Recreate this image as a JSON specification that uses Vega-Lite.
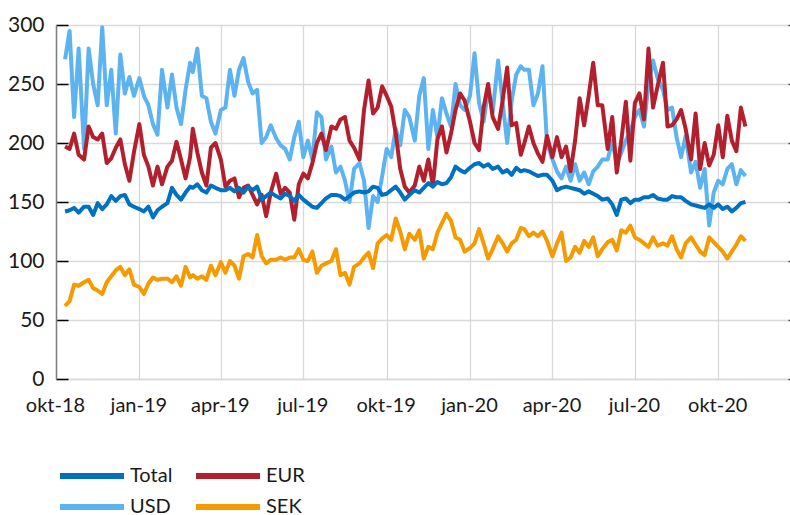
{
"$schema":"https://vega.github.io/schema/vega-lite/v6.json",
"width":732,"height":354,
"autosize":{"type":"none"},
"padding":{"left":56,"top":25,"right":2,"bottom":136},
"background":"white",
"config":{"view":{"stroke":null},"font":"Lato"},
"layer":[
{
"data":{"values":[
{"d":"2018-10-11","Total":142,"EUR":197,"USD":271,"SEK":62},
{"d":"2018-10-16","Total":143,"EUR":195,"USD":295,"SEK":66},
{"d":"2018-10-21","Total":145,"EUR":208,"USD":222,"SEK":80},
{"d":"2018-10-26","Total":141,"EUR":190,"USD":280,"SEK":79},
{"d":"2018-11-01","Total":146,"EUR":186,"USD":195,"SEK":82},
{"d":"2018-11-06","Total":146,"EUR":214,"USD":280,"SEK":84},
{"d":"2018-11-11","Total":139,"EUR":205,"USD":250,"SEK":77},
{"d":"2018-11-16","Total":149,"EUR":203,"USD":232,"SEK":75},
{"d":"2018-11-21","Total":144,"EUR":208,"USD":298,"SEK":72},
{"d":"2018-11-26","Total":148,"EUR":183,"USD":232,"SEK":82},
{"d":"2018-12-01","Total":155,"EUR":187,"USD":262,"SEK":87},
{"d":"2018-12-06","Total":151,"EUR":196,"USD":208,"SEK":92},
{"d":"2018-12-11","Total":155,"EUR":203,"USD":275,"SEK":95},
{"d":"2018-12-16","Total":156,"EUR":182,"USD":242,"SEK":88},
{"d":"2018-12-21","Total":148,"EUR":168,"USD":256,"SEK":93},
{"d":"2018-12-26","Total":146,"EUR":192,"USD":240,"SEK":80},
{"d":"2019-01-01","Total":144,"EUR":216,"USD":255,"SEK":78},
{"d":"2019-01-06","Total":142,"EUR":190,"USD":240,"SEK":72},
{"d":"2019-01-11","Total":146,"EUR":180,"USD":232,"SEK":81},
{"d":"2019-01-16","Total":137,"EUR":164,"USD":216,"SEK":86},
{"d":"2019-01-21","Total":143,"EUR":180,"USD":207,"SEK":84},
{"d":"2019-01-26","Total":146,"EUR":165,"USD":262,"SEK":85},
{"d":"2019-02-01","Total":149,"EUR":180,"USD":230,"SEK":85},
{"d":"2019-02-06","Total":162,"EUR":185,"USD":258,"SEK":82},
{"d":"2019-02-11","Total":156,"EUR":201,"USD":230,"SEK":87},
{"d":"2019-02-16","Total":152,"EUR":186,"USD":216,"SEK":79},
{"d":"2019-02-21","Total":158,"EUR":170,"USD":245,"SEK":95},
{"d":"2019-02-26","Total":163,"EUR":188,"USD":268,"SEK":86},
{"d":"2019-03-01","Total":162,"EUR":212,"USD":260,"SEK":88},
{"d":"2019-03-06","Total":165,"EUR":192,"USD":280,"SEK":85},
{"d":"2019-03-11","Total":160,"EUR":175,"USD":240,"SEK":87},
{"d":"2019-03-16","Total":158,"EUR":164,"USD":238,"SEK":84},
{"d":"2019-03-21","Total":164,"EUR":196,"USD":218,"SEK":96},
{"d":"2019-03-26","Total":162,"EUR":200,"USD":208,"SEK":88},
{"d":"2019-04-01","Total":160,"EUR":186,"USD":228,"SEK":99},
{"d":"2019-04-06","Total":160,"EUR":163,"USD":230,"SEK":90},
{"d":"2019-04-11","Total":162,"EUR":168,"USD":262,"SEK":100},
{"d":"2019-04-16","Total":159,"EUR":170,"USD":240,"SEK":96},
{"d":"2019-04-21","Total":162,"EUR":154,"USD":262,"SEK":85},
{"d":"2019-04-26","Total":158,"EUR":162,"USD":272,"SEK":104},
{"d":"2019-05-01","Total":163,"EUR":164,"USD":252,"SEK":106},
{"d":"2019-05-06","Total":160,"EUR":156,"USD":242,"SEK":103},
{"d":"2019-05-11","Total":163,"EUR":148,"USD":245,"SEK":122},
{"d":"2019-05-16","Total":152,"EUR":156,"USD":200,"SEK":104},
{"d":"2019-05-21","Total":155,"EUR":138,"USD":205,"SEK":98},
{"d":"2019-05-26","Total":158,"EUR":158,"USD":215,"SEK":101},
{"d":"2019-06-01","Total":155,"EUR":174,"USD":204,"SEK":101},
{"d":"2019-06-06","Total":153,"EUR":157,"USD":198,"SEK":103},
{"d":"2019-06-11","Total":157,"EUR":162,"USD":195,"SEK":101},
{"d":"2019-06-16","Total":155,"EUR":158,"USD":186,"SEK":103},
{"d":"2019-06-21","Total":151,"EUR":135,"USD":205,"SEK":103},
{"d":"2019-06-26","Total":156,"EUR":165,"USD":218,"SEK":110},
{"d":"2019-07-01","Total":152,"EUR":174,"USD":188,"SEK":101},
{"d":"2019-07-06","Total":149,"EUR":170,"USD":202,"SEK":100},
{"d":"2019-07-11","Total":146,"EUR":183,"USD":186,"SEK":108},
{"d":"2019-07-16","Total":145,"EUR":200,"USD":226,"SEK":90},
{"d":"2019-07-21","Total":149,"EUR":208,"USD":222,"SEK":96},
{"d":"2019-07-26","Total":153,"EUR":194,"USD":186,"SEK":98},
{"d":"2019-08-01","Total":156,"EUR":214,"USD":197,"SEK":100},
{"d":"2019-08-06","Total":156,"EUR":212,"USD":175,"SEK":110},
{"d":"2019-08-11","Total":155,"EUR":220,"USD":180,"SEK":88},
{"d":"2019-08-16","Total":152,"EUR":222,"USD":168,"SEK":90},
{"d":"2019-08-21","Total":155,"EUR":202,"USD":150,"SEK":80},
{"d":"2019-08-26","Total":158,"EUR":196,"USD":178,"SEK":95},
{"d":"2019-09-01","Total":159,"EUR":186,"USD":183,"SEK":98},
{"d":"2019-09-06","Total":158,"EUR":228,"USD":168,"SEK":103},
{"d":"2019-09-11","Total":159,"EUR":253,"USD":128,"SEK":107},
{"d":"2019-09-16","Total":163,"EUR":225,"USD":155,"SEK":94},
{"d":"2019-09-21","Total":162,"EUR":230,"USD":150,"SEK":115},
{"d":"2019-09-26","Total":156,"EUR":248,"USD":172,"SEK":119},
{"d":"2019-10-01","Total":157,"EUR":240,"USD":195,"SEK":122},
{"d":"2019-10-06","Total":160,"EUR":231,"USD":188,"SEK":118},
{"d":"2019-10-11","Total":163,"EUR":208,"USD":212,"SEK":136},
{"d":"2019-10-16","Total":158,"EUR":178,"USD":198,"SEK":125},
{"d":"2019-10-21","Total":152,"EUR":163,"USD":228,"SEK":110},
{"d":"2019-10-26","Total":156,"EUR":158,"USD":222,"SEK":123},
{"d":"2019-11-01","Total":160,"EUR":164,"USD":202,"SEK":118},
{"d":"2019-11-06","Total":158,"EUR":180,"USD":240,"SEK":126},
{"d":"2019-11-11","Total":162,"EUR":168,"USD":255,"SEK":102},
{"d":"2019-11-16","Total":166,"EUR":186,"USD":195,"SEK":112},
{"d":"2019-11-21","Total":163,"EUR":164,"USD":228,"SEK":110},
{"d":"2019-11-26","Total":167,"EUR":203,"USD":205,"SEK":124},
{"d":"2019-12-01","Total":165,"EUR":214,"USD":238,"SEK":132},
{"d":"2019-12-06","Total":166,"EUR":192,"USD":225,"SEK":140},
{"d":"2019-12-11","Total":171,"EUR":208,"USD":214,"SEK":134},
{"d":"2019-12-16","Total":180,"EUR":228,"USD":250,"SEK":120},
{"d":"2019-12-21","Total":177,"EUR":242,"USD":232,"SEK":118},
{"d":"2019-12-26","Total":175,"EUR":236,"USD":228,"SEK":108},
{"d":"2020-01-01","Total":179,"EUR":218,"USD":240,"SEK":111},
{"d":"2020-01-06","Total":182,"EUR":200,"USD":276,"SEK":115},
{"d":"2020-01-11","Total":183,"EUR":194,"USD":234,"SEK":127},
{"d":"2020-01-16","Total":180,"EUR":230,"USD":218,"SEK":115},
{"d":"2020-01-21","Total":182,"EUR":250,"USD":245,"SEK":102},
{"d":"2020-01-26","Total":178,"EUR":222,"USD":226,"SEK":110},
{"d":"2020-02-01","Total":180,"EUR":212,"USD":270,"SEK":121},
{"d":"2020-02-06","Total":175,"EUR":236,"USD":234,"SEK":115},
{"d":"2020-02-11","Total":177,"EUR":264,"USD":200,"SEK":108},
{"d":"2020-02-16","Total":173,"EUR":215,"USD":236,"SEK":115},
{"d":"2020-02-21","Total":179,"EUR":217,"USD":258,"SEK":118},
{"d":"2020-02-26","Total":176,"EUR":190,"USD":265,"SEK":128},
{"d":"2020-03-01","Total":177,"EUR":200,"USD":262,"SEK":127},
{"d":"2020-03-06","Total":176,"EUR":214,"USD":262,"SEK":121},
{"d":"2020-03-11","Total":174,"EUR":200,"USD":232,"SEK":124},
{"d":"2020-03-16","Total":172,"EUR":191,"USD":242,"SEK":121},
{"d":"2020-03-21","Total":173,"EUR":184,"USD":265,"SEK":125},
{"d":"2020-03-26","Total":173,"EUR":206,"USD":200,"SEK":117},
{"d":"2020-04-01","Total":168,"EUR":188,"USD":186,"SEK":104},
{"d":"2020-04-06","Total":160,"EUR":205,"USD":176,"SEK":115},
{"d":"2020-04-11","Total":162,"EUR":188,"USD":170,"SEK":124},
{"d":"2020-04-16","Total":163,"EUR":197,"USD":180,"SEK":100},
{"d":"2020-04-21","Total":162,"EUR":176,"USD":168,"SEK":103},
{"d":"2020-04-26","Total":161,"EUR":202,"USD":182,"SEK":112},
{"d":"2020-05-01","Total":160,"EUR":238,"USD":168,"SEK":107},
{"d":"2020-05-06","Total":157,"EUR":215,"USD":175,"SEK":117},
{"d":"2020-05-11","Total":159,"EUR":240,"USD":165,"SEK":112},
{"d":"2020-05-16","Total":157,"EUR":268,"USD":176,"SEK":120},
{"d":"2020-05-21","Total":155,"EUR":232,"USD":180,"SEK":104},
{"d":"2020-05-26","Total":152,"EUR":232,"USD":186,"SEK":110},
{"d":"2020-06-01","Total":153,"EUR":195,"USD":186,"SEK":116},
{"d":"2020-06-06","Total":148,"EUR":222,"USD":202,"SEK":118},
{"d":"2020-06-11","Total":139,"EUR":175,"USD":182,"SEK":109},
{"d":"2020-06-16","Total":152,"EUR":202,"USD":192,"SEK":126},
{"d":"2020-06-21","Total":153,"EUR":235,"USD":202,"SEK":124},
{"d":"2020-06-26","Total":149,"EUR":185,"USD":210,"SEK":130},
{"d":"2020-07-01","Total":152,"EUR":234,"USD":222,"SEK":120},
{"d":"2020-07-06","Total":152,"EUR":242,"USD":228,"SEK":118},
{"d":"2020-07-11","Total":154,"EUR":220,"USD":214,"SEK":115},
{"d":"2020-07-16","Total":154,"EUR":280,"USD":250,"SEK":112},
{"d":"2020-07-21","Total":156,"EUR":230,"USD":270,"SEK":120},
{"d":"2020-07-26","Total":153,"EUR":248,"USD":255,"SEK":113},
{"d":"2020-08-01","Total":152,"EUR":268,"USD":245,"SEK":115},
{"d":"2020-08-06","Total":152,"EUR":214,"USD":228,"SEK":113},
{"d":"2020-08-11","Total":155,"EUR":215,"USD":230,"SEK":121},
{"d":"2020-08-16","Total":154,"EUR":220,"USD":205,"SEK":110},
{"d":"2020-08-21","Total":154,"EUR":228,"USD":188,"SEK":103},
{"d":"2020-08-26","Total":151,"EUR":212,"USD":206,"SEK":115},
{"d":"2020-09-01","Total":148,"EUR":186,"USD":175,"SEK":120},
{"d":"2020-09-06","Total":147,"EUR":225,"USD":184,"SEK":114},
{"d":"2020-09-11","Total":146,"EUR":178,"USD":162,"SEK":108},
{"d":"2020-09-16","Total":145,"EUR":200,"USD":178,"SEK":105},
{"d":"2020-09-21","Total":148,"EUR":181,"USD":130,"SEK":120},
{"d":"2020-09-26","Total":145,"EUR":190,"USD":158,"SEK":116},
{"d":"2020-10-01","Total":148,"EUR":215,"USD":168,"SEK":112},
{"d":"2020-10-06","Total":144,"EUR":188,"USD":165,"SEK":108},
{"d":"2020-10-11","Total":146,"EUR":223,"USD":178,"SEK":102},
{"d":"2020-10-16","Total":142,"EUR":202,"USD":182,"SEK":108},
{"d":"2020-10-21","Total":145,"EUR":193,"USD":165,"SEK":114},
{"d":"2020-10-26","Total":149,"EUR":230,"USD":177,"SEK":121},
{"d":"2020-10-31","Total":150,"EUR":214,"USD":172,"SEK":117}
]},
"transform":[{"fold":["USD","EUR","Total","SEK"],"as":["serie","v"]}],
"mark":{"type":"line","strokeWidth":4,"strokeJoin":"round"},
"encoding":{
"x":{"field":"d","type":"temporal",
"scale":{"type":"utc","domain":[{"year":2018,"month":10,"date":1,"utc":true},{"year":2020,"month":12,"date":17,"utc":true}]},
"axis":{"title":null,
"values":[{"year":2018,"month":10,"date":1,"utc":true},{"year":2019,"month":1,"date":1,"utc":true},{"year":2019,"month":4,"date":1,"utc":true},{"year":2019,"month":7,"date":1,"utc":true},{"year":2019,"month":10,"date":1,"utc":true},{"year":2020,"month":1,"date":1,"utc":true},{"year":2020,"month":4,"date":1,"utc":true},{"year":2020,"month":7,"date":1,"utc":true},{"year":2020,"month":10,"date":1,"utc":true}],
"labelExpr":"['jan','feb','mar','apr','mai','jun','jul','aug','sep','okt','nov','des'][utcmonth(datum.value)] + '-' + utcFormat(datum.value, '%y')",
"labelFlush":false,"labelOverlap":false,"labelFont":"Lato","labelFontSize":20,"labelColor":"#1a1a1a","labelPadding":16,"labelOffset":-1,
"ticks":false,"grid":true,"gridColor":"#d9d9d9","gridWidth":1.3,"domainColor":"#d9d9d9","domainWidth":1.5}},
"y":{"field":"v","type":"quantitative","scale":{"domain":[0,300],"nice":false},
"axis":{"title":null,"values":[0,50,100,150,200,250,300],"labelFont":"Lato","labelFontSize":21,"labelColor":"#1a1a1a",
"ticks":true,"tickSize":-12,"tickColor":"#000000","tickWidth":1.5,"labelPadding":24,
"grid":true,"gridColor":"#d9d9d9","gridWidth":1.3,"domainColor":"#7f7f7f","domainWidth":1.5}},
"color":{"field":"serie","type":"nominal",
"scale":{"domain":["Total","EUR","USD","SEK"],"range":["#0070C0","#B21F2D","#5DB3F0","#F59A00"]},
"legend":{"orient":"none","legendX":17,"legendY":432,"direction":"horizontal","columns":2,"title":null,
"symbolType":"M-2,0H2","symbolSize":1024,"symbolStrokeWidth":6,
"labelFont":"Lato","labelFontSize":20,"labelColor":"#1a1a1a","labelOffset":19,"columnPadding":11,"rowPadding":0,"padding":0}}
}
},
{
"data":{"values":[{}]},
"mark":{"type":"rule","opacity":0},
"encoding":{"y":{"datum":0,"type":"quantitative",
"axis":{"orient":"right","title":null,"labels":false,"domain":false,"grid":false,"ticks":true,"tickSize":4,"tickColor":"#333333","tickWidth":1.5,"values":[0,50,100,150,200,250,300]}}}
}
],
"resolve":{"axis":{"y":"independent"}}
}
